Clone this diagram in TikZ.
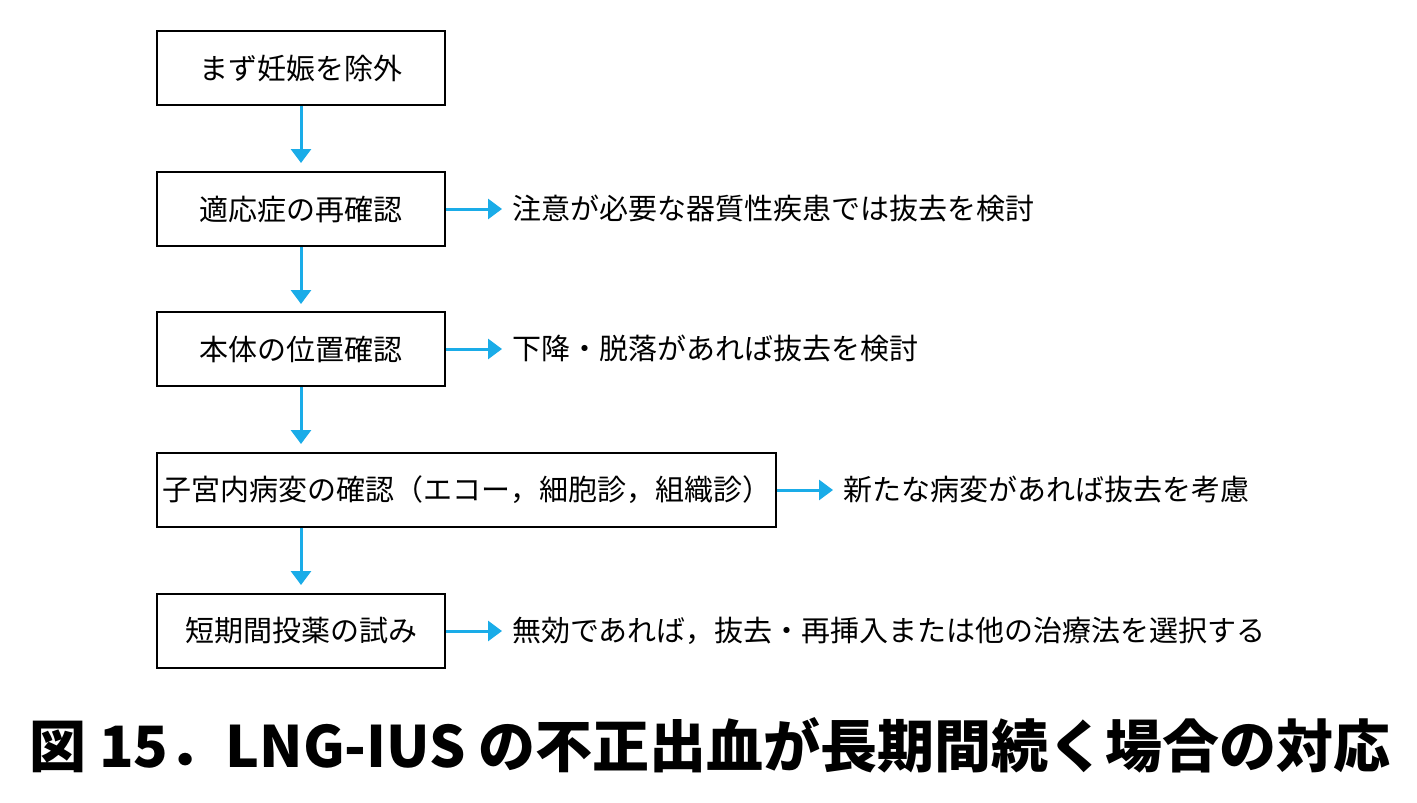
\documentclass[tikz,border=0pt]{standalone}
\usepackage{fontspec}
\setmainfont{Noto Sans CJK JP}
\usetikzlibrary{arrows.meta}
\definecolor{arr}{HTML}{1AACE8}
\begin{document}
\begin{tikzpicture}[x=1pt,y=-1pt,
  box/.style={draw,line width=1.8pt,inner sep=0pt,font=\fontsize{29}{33}\selectfont},
  lbl/.style={anchor=west,inner sep=0pt,font=\fontsize{29}{33}\selectfont},
  ar/.style={draw=arr,line width=3pt,-{Triangle[length=14pt,width=20pt]}}]
\useasboundingbox[fill=white] (0,0) rectangle (1417,803);
\node[box,minimum width=288pt,minimum height=74pt] (b1) at (301,68) {まず妊娠を除外};
\node[box,minimum width=288pt,minimum height=74pt] (b2) at (301,209) {適応症の再確認};
\node[box,minimum width=288pt,minimum height=74pt] (b3) at (301,349) {本体の位置確認};
\node[box,minimum width=619pt,minimum height=74pt] (b4) at (466.5,490) {子宮内病変の確認（エコー，細胞診，組織診）};
\node[box,minimum width=288pt,minimum height=74pt] (b5) at (301,631) {短期間投薬の試み};
\coordinate (e1) at (301,163);
\coordinate (e2) at (301,304);
\coordinate (e3) at (301,444);
\coordinate (e4) at (301,585);
\draw[ar] (b1.south -| e1) -- (e1);
\draw[ar] (b2.south -| e2) -- (e2);
\draw[ar] (b3.south -| e3) -- (e3);
\draw[ar] (e4 |- b4.south) -- (e4);
\node[lbl] (t2) at (512,209) {注意が必要な器質性疾患では抜去を検討};
\node[lbl] (t3) at (512,349) {下降・脱落があれば抜去を検討};
\node[lbl] (t4) at (843,490) {新たな病変があれば抜去を考慮};
\node[lbl] (t5) at (512,631) {無効であれば，抜去・再挿入または他の治療法を選択する};
\draw[ar] (b2.east) -- ([xshift=-10pt]t2.west);
\draw[ar] (b3.east) -- ([xshift=-10pt]t3.west);
\draw[ar] (b4.east) -- ([xshift=-10pt]t4.west);
\draw[ar] (b5.east) -- ([xshift=-10pt]t5.west);
\node[inner sep=0pt,font=\fontsize{57}{64}\selectfont\bfseries] (title) at (710,745) {図 15．LNG-IUS の不正出血が長期間続く場合の対応};
\end{tikzpicture}
\end{document}
